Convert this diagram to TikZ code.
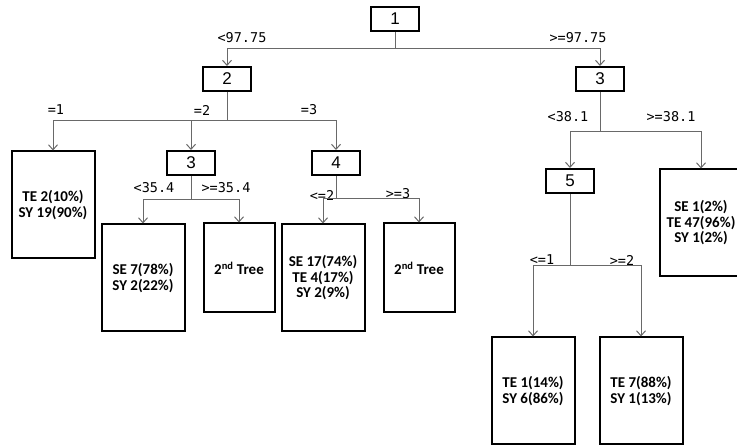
\documentclass[tikz,border=0pt]{standalone}
\usepackage{fontspec}
\setmainfont{Liberation Sans}
\newfontfamily\leaffont{Carlito}
\newfontfamily\cutfont{DejaVu Sans Mono}
\usepackage{xcolor}
\usepackage{tikz}
\usetikzlibrary{arrows.meta}

\definecolor{wiregray}{RGB}{105,105,105}

\begin{document}
\begin{tikzpicture}[
    x=1pt,y=-1pt,
    split/.style={draw, line width=2pt, minimum width=48pt, minimum height=24pt,
                  inner sep=0pt, font=\fontsize{17}{17}\selectfont},
    leaf/.style={draw, line width=2pt, minimum width=83pt, minimum height=107pt, align=center,
                 inner sep=0pt, font=\leaffont\bfseries\fontsize{15}{15.5}\selectfont},
    subtree/.style={leaf, minimum width=71pt, minimum height=89pt},
    cut/.style={font=\cutfont\fontsize{13.5}{13.5}\selectfont, inner sep=0pt},
    wire/.style={draw=wiregray, line width=1pt, -{Straight Barb[length=5pt,width=9pt]}}
]
\useasboundingbox (0,0) rectangle (737,446);

% Split nodes
\node[split] (s1) at (395,19) {1};
\node[split] (s2) at (227,79) {2};
\node[split] (s3r) at (600,79) {3};
\node[split] (s3l) at (191,163) {3};
\node[split] (s4) at (336,163) {4};
\node[split] (s5) at (570,181) {5};

% Leaves
\node[leaf] (lfA) at (53,205) {TE 2(10\%)\\SY 19(90\%)};
\node[leaf] (lfB) at (143,278) {SE 7(78\%)\\SY 2(22\%)};
\node[subtree] (trA) at (239,268) {2\textsuperscript{nd} Tree};
\node[leaf] (lfC) at (323,278) {SE 17(74\%)\\TE 4(17\%)\\SY 2(9\%)};
\node[subtree] (trB) at (419,268) {2\textsuperscript{nd} Tree};
\node[leaf] (lfD) at (701,223) {SE 1(2\%)\\TE 47(96\%)\\SY 1(2\%)};
\node[leaf] (lfE) at (533,391) {TE 1(14\%)\\SY 6(86\%)};
\node[leaf] (lfF) at (641,391) {TE 7(88\%)\\SY 1(13\%)};

% Cut labels
\node[cut] (c1) at (242,38) {<97.75};
\node[cut] (c2) at (578,38) {>=97.75};
\node[cut] (c3) at (56,110) {=1};
\node[cut] (c4) at (202,110) {=2};
\node[cut] (c5) at (309,110) {=3};
\node[cut] (c6) at (154,188) {<35.4};
\node[cut] (c7) at (226,188) {>=35.4};
\node[cut] (c8) at (322,195) {<=2};
\node[cut] (c9) at (398,194) {>=3};
\node[cut] (c10) at (568,117) {<38.1};
\node[cut] (c11) at (671,117) {>=38.1};
\node[cut] (c12) at (542,260) {<=1};
\node[cut] (c13) at (622,260) {>=2};

% Branches
\draw[wire] (s1.south) -- ++(0,17) -| (s2.north);
\draw[wire] (s1.south) -- ++(0,17) -| (s3r.north);
\draw[wire] (s2.south) -- ++(0,29) -| (lfA.north);
\draw[wire] (s2.south) -- ++(0,29) -| (s3l.north);
\draw[wire] (s2.south) -- ++(0,29) -| (s4.north);
\draw[wire] (s3l.south) -- ++(0,24) -| (lfB.north);
\draw[wire] (s3l.south) -- ++(0,24) -| (trA.north);
\draw[wire] (s4.south) -- ++(0,23) -| (lfC.north);
\draw[wire] (s4.south) -- ++(0,23) -| (trB.north);
\draw[wire] (s3r.south) -- ++(0,40) -| (s5.north);
\draw[wire] (s3r.south) -- ++(0,40) -| (lfD.north);
\draw[wire] (s5.south) -- ++(0,72) -| (lfE.north);
\draw[wire] (s5.south) -- ++(0,72) -| (lfF.north);
\end{tikzpicture}
\end{document}
